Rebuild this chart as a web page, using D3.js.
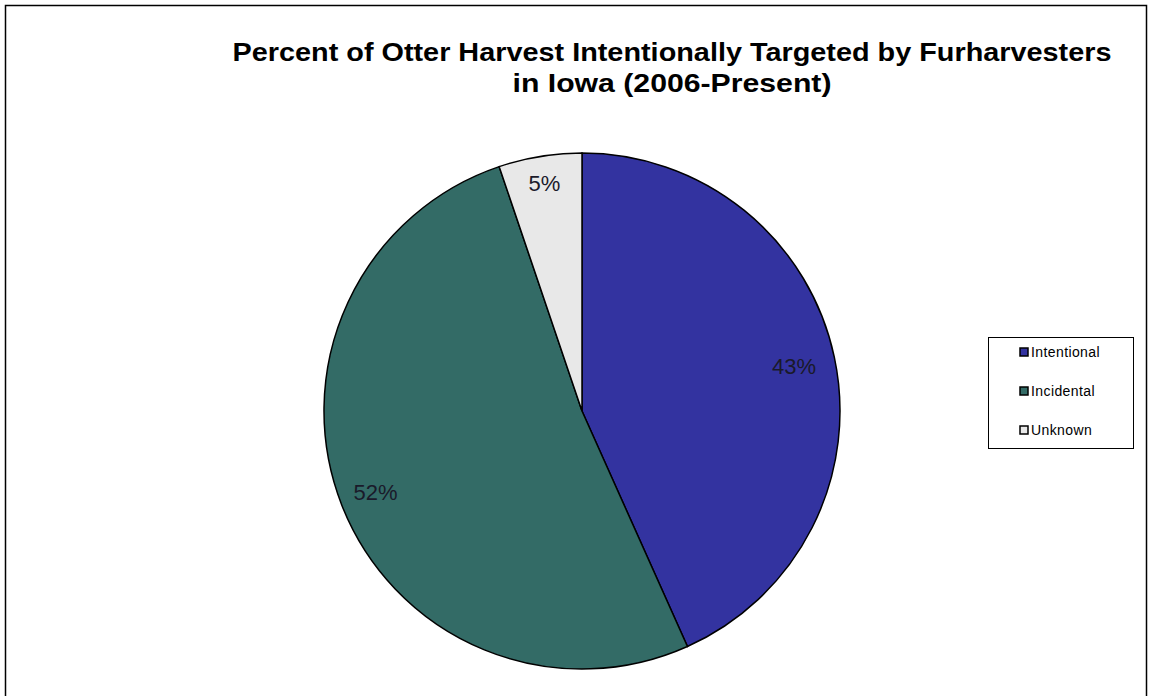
<!DOCTYPE html>
<html><head><meta charset="utf-8">
<script src="https://cdn.jsdelivr.net/npm/d3@7"></script>
<style>body{margin:0;background:#fff}svg{display:block}</style>
</head><body>
<svg id="c" width="1151" height="696"></svg>
<script>
const categories = ["Intentional", "Incidental", "Unknown"];
const values = [43.3, 51.5, 5.2];
const labels = ["43%", "52%", "5%"];
const colors = ["#3333a0", "#336b66", "#e8e8e8"];
const titleLines = ["Percent of Otter Harvest Intentionally Targeted by Furharvesters", "in Iowa (2006-Present)"];

const svg = d3.select("#c");
svg.append("rect").attr("x", 5.5).attr("y", 5.5).attr("width", 1141).attr("height", 700)
  .attr("fill", "#fff").attr("stroke", "#000").attr("stroke-width", 1.5);

const titleWidths = [879, 319];
svg.append("g").selectAll("text").data(titleLines).join("text")
  .attr("x", 672).attr("y", (d, i) => 61 + i * 31)
  .attr("text-anchor", "middle")
  .attr("font-family", "Liberation Sans, Arial, sans-serif")
  .attr("font-weight", "bold").attr("font-size", 26)
  .attr("textLength", (d, i) => titleWidths[i]).attr("lengthAdjust", "spacingAndGlyphs")
  .text(d => d);

const cx = 582, cy = 411, r = 258;
const data = categories.map((c, i) => ({ c, v: values[i], label: labels[i], color: colors[i] }));
const pie = d3.pie().value(d => d.v).sort(null);
const arc = d3.arc().innerRadius(0).outerRadius(r);
const arcs = pie(data);
const g = svg.append("g").attr("transform", `translate(${cx},${cy})`);
g.selectAll("path").data(arcs).join("path")
  .attr("d", arc).attr("fill", d => d.data.color)
  .attr("stroke", "#000").attr("stroke-width", 1.5);

const labelPos = [0.84, 0.86, 0.895];
g.selectAll("text").data(arcs).join("text")
  .attr("transform", (d, i) => {
    const a = (d.startAngle + d.endAngle) / 2;
    const rr = r * labelPos[i];
    return `translate(${Math.sin(a) * rr},${-Math.cos(a) * rr})`;
  })
  .attr("text-anchor", "middle").attr("dy", "0.36em")
  .attr("font-family", "Liberation Sans, Arial, sans-serif")
  .attr("font-size", 22).attr("fill", "#1a1a2a")
  .text(d => d.data.label);

const lg = svg.append("g");
lg.append("rect").attr("x", 988.5).attr("y", 337.5).attr("width", 145).attr("height", 111)
  .attr("fill", "#fff").attr("stroke", "#000").attr("stroke-width", 1);
const items = lg.selectAll("g.it").data(data).join("g").attr("class", "it")
  .attr("transform", (d, i) => `translate(1019,${352 + i * 39})`);
items.append("rect").attr("x", 1).attr("y", -4).attr("width", 8).attr("height", 8)
  .attr("fill", d => d.color).attr("stroke", "#000").attr("stroke-width", 1.5);
items.append("text").attr("x", 12).attr("y", 0).attr("dy", "0.36em")
  .attr("font-family", "Liberation Sans, Arial, sans-serif").attr("font-size", 14)
  .attr("letter-spacing", 0.4)
  .text(d => d.c);
</script>
</body></html>
